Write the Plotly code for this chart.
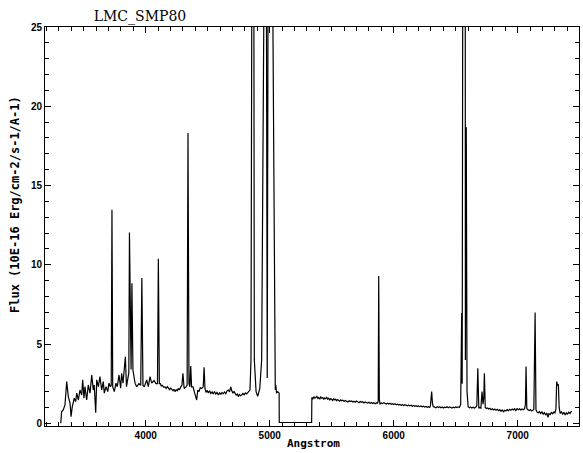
import plotly.graph_objects as go

# ---- data (wavelength in Angstrom, flux in 1E-16 units) ----
blue_wl = [
    3315, 3322, 3335, 3349, 3363, 3376, 3390, 3398, 3408, 3424, 3435, 3444, 3457, 3470,
    3484, 3492, 3502, 3510, 3524, 3537, 3551, 3565, 3577, 3585, 3597, 3605, 3618, 3631,
    3645, 3658, 3666, 3680, 3694, 3704, 3715, 3722, 3728, 3734, 3747, 3760, 3771, 3785,
    3798, 3806, 3817, 3825, 3836, 3845, 3855, 3864, 3869, 3877, 3882, 3889, 3897, 3914,
    3927, 3945, 3960, 3969, 3978, 3989, 4008, 4021, 4035, 4048, 4067, 4083, 4095, 4102,
    4110, 4118, 4126, 4134, 4144, 4156, 4166, 4175, 4183, 4193, 4202, 4210, 4220, 4228,
    4237, 4246, 4255, 4263, 4272, 4283, 4292, 4300, 4310, 4325, 4334, 4341, 4349, 4356,
    4363, 4370, 4382, 4395, 4411, 4420, 4430, 4440, 4452, 4464, 4471, 4478, 4486, 4495,
    4505, 4515, 4525, 4535, 4545, 4555, 4565, 4575, 4586, 4596, 4606, 4616, 4626, 4636,
    4646, 4656, 4666, 4676, 4686, 4694, 4703, 4712, 4720, 4730, 4740, 4747, 4756, 4765,
    4774, 4784, 4794, 4804, 4814, 4824, 4834, 4841,
]
blue_flux = [
    0.00, 0.73, 0.84, 1.16, 2.63, 1.68, 1.26, 0.42, 1.05, 1.58, 1.37, 1.90, 1.47, 2.10,
    1.79, 2.74, 1.58, 2.31, 1.47, 2.42, 1.90, 3.05, 2.10, 2.42, 0.67, 2.74, 2.31, 2.94,
    2.10, 2.63, 1.90, 2.31, 2.00, 2.53, 2.31, 2.40, 13.47, 2.30, 2.00, 2.53, 2.31, 3.05,
    2.21, 3.16, 2.53, 3.26, 4.20, 2.31, 2.90, 3.20, 12.04, 3.60, 3.40, 8.84, 3.37, 2.53,
    2.30, 2.50, 2.40, 9.16, 2.40, 2.30, 2.74, 2.31, 2.95, 2.53, 2.70, 2.50, 2.50, 10.38,
    2.50, 2.50, 2.35, 2.40, 2.28, 2.30, 2.20, 2.32, 2.25, 2.12, 2.22, 2.14, 2.05, 2.15,
    2.00, 2.12, 2.05, 2.20, 2.10, 2.30, 2.40, 3.16, 2.20, 2.30, 2.40, 18.32, 2.50, 2.30,
    3.62, 2.30, 2.30, 1.90, 1.47, 2.10, 2.00, 2.25, 2.20, 2.30, 3.54, 2.20, 1.95, 2.08,
    1.92, 2.05, 1.88, 1.98, 1.85, 2.00, 1.84, 1.95, 1.79, 1.92, 1.83, 1.95, 1.86, 1.98,
    1.88, 2.05, 2.10, 1.98, 2.30, 2.05, 1.92, 2.00, 1.90, 1.78, 1.85, 1.68, 1.82, 1.74,
    1.79, 1.88, 1.80, 1.92, 1.85, 1.95, 2.00, 2.10,
]
# H-beta, [OIII] 4959/5007 and the detector gap
mid_wl = [
    4849, 4855, 4862, 4869, 4876, 4890, 4903, 4920, 4935, 4952, 4962, 4974, 4980, 4986,
    5008, 5026, 5038, 5045, 5050, 5055, 5065, 5076, 5077, 5338,
]
mid_flux = [
    4.00, 25.0, 90.0, 25.0, 4.00, 2.00, 1.70, 2.20, 4.00, 25.0, 200.0, 25.0, 2.86, 25.0,
    600.0, 25.0, 4.00, 2.10, 2.40, 1.90, 2.00, 1.90, 0.05, 0.05,
]
red_wl = [
    5340, 5348, 5356, 5364, 5372, 5380, 5388, 5396, 5404, 5412, 5420, 5428, 5436, 5444,
    5452, 5460, 5468, 5476, 5484, 5492, 5500, 5508, 5516, 5524, 5532, 5540, 5548, 5556,
    5564, 5572, 5580, 5590, 5600, 5610, 5620, 5630, 5640, 5650, 5660, 5670, 5680, 5690,
    5700, 5710, 5720, 5730, 5740, 5750, 5760, 5770, 5780, 5790, 5800, 5810, 5820, 5830,
    5840, 5850, 5860, 5870, 5875, 5879, 5884, 5890, 5900, 5910, 5920, 5930, 5940, 5950,
    5960, 5970, 5980, 5990, 6000, 6010, 6020, 6030, 6040, 6050, 6060, 6070, 6080, 6090,
    6100, 6110, 6120, 6130, 6140, 6150, 6160, 6170, 6180, 6190, 6200, 6210, 6220, 6230,
    6240, 6250, 6260, 6270, 6280, 6290, 6296, 6300, 6306, 6312, 6318, 6330, 6340, 6350,
    6360, 6370, 6380, 6390, 6400, 6410, 6420, 6430, 6440, 6450, 6460, 6470, 6480, 6490,
    6500, 6510, 6520, 6530, 6540, 6548, 6552, 6556, 6563, 6572, 6578, 6585, 6591, 6600,
    6610, 6620, 6630, 6640, 6650, 6660, 6670, 6678, 6686, 6695, 6703, 6712, 6720, 6726,
    6731, 6738, 6746, 6755, 6765, 6775, 6785, 6795, 6805, 6815, 6825, 6835, 6845, 6855,
    6865, 6875, 6885, 6895, 6905, 6915, 6925, 6935, 6945, 6955, 6965, 6975, 6985, 6995,
    7005, 7015, 7025, 7035, 7045, 7055, 7062, 7067, 7073, 7082, 7092, 7102, 7112, 7122,
    7130, 7140, 7147, 7155, 7165, 7175, 7185, 7195, 7205, 7215, 7225, 7235, 7244, 7252,
    7262, 7272, 7282, 7292, 7300, 7308, 7314, 7320, 7328, 7334, 7342, 7352, 7362, 7372,
    7382, 7392, 7402, 7412, 7422, 7430, 7438,
]
red_flux = [
    1.64, 1.55, 1.68, 1.58, 1.62, 1.70, 1.57, 1.63, 1.52, 1.66, 1.58, 1.62, 1.50, 1.60,
    1.55, 1.64, 1.52, 1.58, 1.48, 1.56, 1.50, 1.44, 1.55, 1.47, 1.52, 1.42, 1.50, 1.45,
    1.40, 1.48, 1.42, 1.46, 1.38, 1.44, 1.40, 1.35, 1.42, 1.37, 1.41, 1.34, 1.39, 1.33,
    1.40, 1.35, 1.30, 1.37, 1.32, 1.36, 1.28, 1.34, 1.30, 1.27, 1.33, 1.26, 1.31, 1.25,
    1.30, 1.24, 1.29, 1.27, 1.40, 9.30, 1.50, 1.22, 1.28, 1.24, 1.30, 1.25, 1.21, 1.27,
    1.22, 1.26, 1.20, 1.24, 1.19, 1.23, 1.17, 1.21, 1.15, 1.19, 1.14, 1.18, 1.12, 1.17,
    1.13, 1.10, 1.16, 1.11, 1.14, 1.08, 1.12, 1.07, 1.11, 1.06, 1.10, 1.05, 1.09, 1.04,
    1.08, 1.02, 1.06, 1.01, 1.05, 1.00, 1.10, 1.60, 2.00, 1.30, 1.05, 1.02, 0.98, 1.04,
    1.00, 1.05, 0.98, 1.03, 0.97, 1.02, 0.99, 1.04, 0.98, 1.03, 1.00, 0.96, 1.02, 0.98,
    1.03, 0.99, 1.04, 1.00, 1.20, 6.95, 2.50, 25.0, 300.0, 25.0, 4.00, 18.67, 2.00, 1.05,
    0.98, 1.03, 0.97, 1.01, 0.96, 1.00, 1.10, 3.47, 0.95, 1.00, 0.96, 2.00, 1.20, 1.60,
    3.16, 1.00, 0.93, 0.97, 0.90, 0.95, 0.86, 0.92, 0.84, 0.90, 0.82, 0.88, 0.80, 0.86,
    0.76, 0.84, 0.73, 0.82, 0.78, 0.86, 0.80, 0.88, 0.82, 0.90, 0.84, 0.92, 0.80, 0.93,
    0.86, 0.92, 0.84, 0.90, 0.85, 0.92, 1.20, 3.58, 0.95, 0.85, 0.80, 0.86, 0.78, 0.82,
    0.90, 6.99, 0.85, 0.72, 0.66, 0.74, 0.62, 0.72, 0.58, 0.68, 0.52, 0.64, 0.38, 0.62,
    0.55, 0.68, 0.60, 0.72, 0.66, 0.90, 2.63, 2.40, 2.42, 1.00, 0.62, 0.72, 0.58, 0.70,
    0.52, 0.66, 0.58, 0.70, 0.62, 0.74, 0.73,
]
x_ticks = [4000, 5000, 6000, 7000]
y_ticks = [0, 5, 10, 15, 20, 25]
title_text = "LMC_SMP80"
x_title = "Angstrom"
y_title = "Flux (10E-16 Erg/cm-2/s-1/A-1)"

wavelength = blue_wl + mid_wl + red_wl
flux = blue_flux + mid_flux + red_flux

W, H = 583, 453
L, R, T, B = 45, 4, 27, 27

fig = go.Figure(go.Scatter(x=wavelength, y=flux, mode="lines",
                           line=dict(color="black", width=1.2), hoverinfo="skip"))

tickfont = dict(family="Liberation Sans", size=10, color="black", weight="bold")
axis_common = dict(showline=True, linecolor="black", linewidth=1, mirror="ticks",
                   ticks="inside", tickcolor="black", tickwidth=1, showgrid=False,
                   zeroline=False, tickfont=tickfont)

fig.update_layout(
    width=W, height=H,
    margin=dict(l=L, r=R, t=T, b=B, pad=0),
    paper_bgcolor="white", plot_bgcolor="white",
    showlegend=False,
    title=dict(text=title_text, x=140 / W, xanchor="center", xref="container",
               y=1 - 16 / H, yanchor="middle",
               font=dict(family="DejaVu Serif", size=14, color="black")),
    xaxis=dict(range=[3188, 7494], tickvals=x_ticks, ticklen=6,
               minor=dict(dtick=100, tick0=0, ticklen=4, ticks="inside", tickcolor="black"),
               **axis_common),
    yaxis=dict(range=[-0.17, 25.0], tickvals=y_ticks, ticklen=6,
               minor=dict(dtick=1, tick0=0, ticklen=4, ticks="inside", tickcolor="black"),
               **axis_common),
)

pw = W - L - R
ph = H - T - B
fig.add_annotation(text=x_title, xref="paper", yref="paper",
                   x=(313 - L) / pw, y=-(444 - (H - B)) / ph, xanchor="center", yanchor="middle",
                   showarrow=False,
                   font=dict(family="DejaVu Sans Mono", size=11, color="black", weight="bold"))
fig.add_annotation(text=y_title, xref="paper", yref="paper",
                   x=(15 - L) / pw, y=(H - B - 205) / ph, xanchor="center", yanchor="middle",
                   textangle=-90, showarrow=False,
                   font=dict(family="DejaVu Sans Mono", size=12, color="black", weight="bold"))

fig.write_html("out.html")
